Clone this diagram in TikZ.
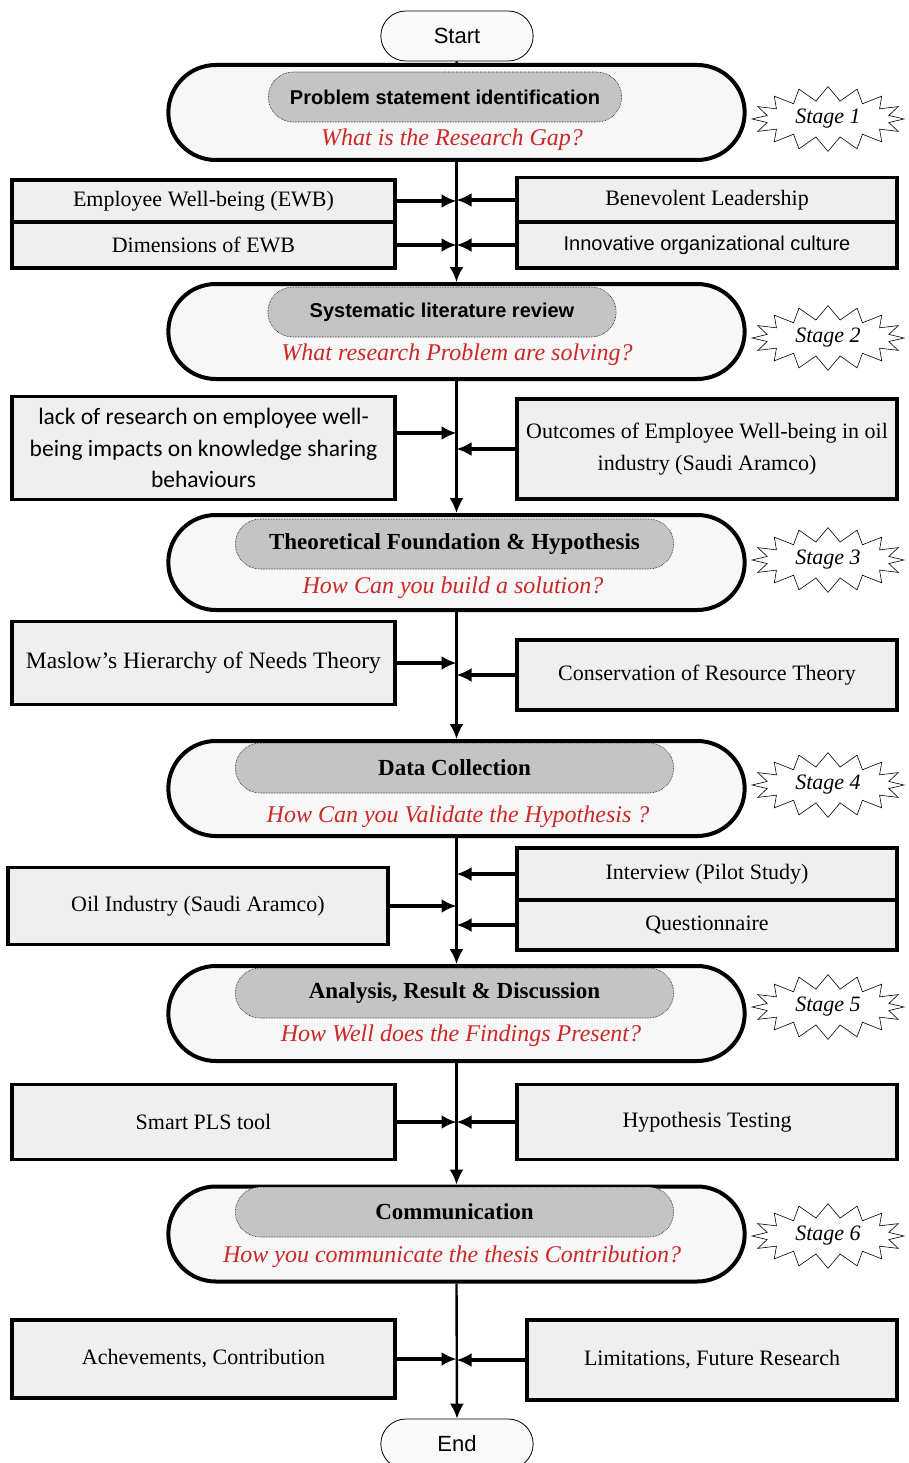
\documentclass[tikz,border=0pt]{standalone}
\usepackage{fontspec}
\setmainfont{Liberation Serif}
\setsansfont{Liberation Sans}
\newfontfamily\calfont{Carlito}
\usepackage{tikz}
\usetikzlibrary{arrows.meta, shapes.misc, shapes.symbols}
\tikzset{>={Latex[length=15pt,width=14pt]}}
\definecolor{qred}{RGB}{205,40,40}
\definecolor{boxgray}{RGB}{239,239,239}
\definecolor{titlegray}{RGB}{196,196,196}
\newcommand{\fs}[1]{\fontsize{#1}{#1}\selectfont}
\tikzset{
  terminal/.style = {rounded rectangle, draw, line width=0.8pt, fill=gray!5, minimum width=159pt, minimum height=50pt, font=\sffamily\fs{22}},
  stage/.style = {rounded rectangle, draw, line width=4pt, fill=gray!6, minimum width=583pt, minimum height=95pt},
  stagetitle/.style = {rounded rectangle, draw, densely dotted, line width=0.6pt, fill=titlegray, minimum height=50pt},
  question/.style = {text=qred, font=\itshape\fs{24}},
  stagetag/.style = {starburst, draw, line width=0.6pt, fill=white, starburst points=16, starburst point height=14pt, random starburst=0, minimum width=152pt, minimum height=62pt, font=\itshape\fs{22}},
  infobox/.style = {rectangle, draw, line width=3.5pt, fill=boxgray, minimum width=383pt, align=center, font=\fs{22}},
  feed/.style = {->, line width=4pt},
  flow/.style = {->, line width=2.4pt}
}

\begin{document}
\begin{tikzpicture}[x=1pt, y=-1pt]
	\useasboundingbox (0,0) rectangle (908,1463);
	
	% Start
	\node[terminal] (start) at (457,36) {Start};
	
	% Stage 1
	\node[stage] (s1) at (456.5,112.5) {};
	\node[stagetitle, minimum width=360pt, font=\sffamily\bfseries\fs{20}] (t1) at (445,97) {Problem statement identification};
	\node[question] (q1) at (452,140) {What is the Research Gap?};
	\node[stagetag] (g1) at (828,119) {Stage 1};
	%
	\node[infobox, minimum height=42pt] (ewb) at (203.5,201) {Employee Well-being (EWB)};
	\node[infobox, minimum height=46pt] (dim) at (203.5,245) {Dimensions of EWB};
	\node[infobox, minimum width=380pt, minimum height=45pt] (benev) at (707,200) {Benevolent Leadership};
	\node[infobox, minimum width=380pt, minimum height=46pt, font=\sffamily\fs{20}] (innov) at (707,245) {Innovative organizational culture};
	
	% Stage 2
	\node[stage] (s2) at (456.5,331.5) {};
	\node[stagetitle, minimum width=355pt, font=\sffamily\bfseries\fs{20}] (t2) at (442,312) {Systematic literature review};
	\node[question] (q2) at (457,355) {What research Problem are solving?};
	\node[stagetag] (g2) at (828,338) {Stage 2};
	%
	\node[infobox, minimum height=103pt, font=\calfont\fontsize{23.5}{31.5}\selectfont] (lack) at (203.5,448) {lack of research on employee well-\\being impacts on knowledge sharing\\behaviours};
	\node[infobox, minimum width=380pt, minimum height=100pt, font=\fontsize{22}{32}\selectfont] (outc) at (707,449) {Outcomes of Employee Well-being in oil\\industry (Saudi Aramco)};
	
	% Stage 3
	\node[stage] (s3) at (456.5,562.5) {};
	\node[stagetitle, minimum width=445pt, font=\bfseries\fs{23}] (t3) at (454.5,544) {Theoretical Foundation \& Hypothesis};
	\node[question] (q3) at (453,588) {How Can you build a solution?};
	\node[stagetag] (g3) at (828,560) {Stage 3};
	%
	\node[infobox, minimum height=83pt, font=\fs{23.5}] (maslow) at (203.5,663) {Maslow's Hierarchy of Needs Theory};
	\node[infobox, minimum width=380pt, minimum height=70pt] (cons) at (707,675) {Conservation of Resource Theory};
	
	% Stage 4
	\node[stage] (s4) at (456.5,788.5) {};
	\node[stagetitle, minimum width=445pt, font=\bfseries\fs{23}] (t4) at (454.5,768) {Data Collection};
	\node[question] (q4) at (458,817) {How Can you Validate the Hypothesis ?};
	\node[stagetag] (g4) at (828,785) {Stage 4};
	%
	\node[infobox, minimum width=380pt, minimum height=77pt] (oil) at (198,906) {Oil Industry (Saudi Aramco)};
	\node[infobox, minimum width=380pt, minimum height=52pt] (interv) at (707,874) {Interview (Pilot Study)};
	\node[infobox, minimum width=380pt, minimum height=50pt] (quest) at (707,925) {Questionnaire};
	
	% Stage 5
	\node[stage] (s5) at (456.5,1013.5) {};
	\node[stagetitle, minimum width=445pt, font=\bfseries\fs{23}] (t5) at (454.5,993) {Analysis, Result \& Discussion};
	\node[question] (q5) at (461,1036) {How Well does the Findings Present?};
	\node[stagetag] (g5) at (828,1007) {Stage 5};
	%
	\node[infobox, minimum height=75pt] (pls) at (203.5,1122) {Smart PLS tool};
	\node[infobox, minimum width=380pt, minimum height=75pt] (hyp) at (707,1122) {Hypothesis Testing};
	
	% Stage 6
	\node[stage] (s6) at (456.5,1234) {};
	\node[stagetitle, minimum width=445pt, font=\bfseries\fs{23}] (t6) at (454.5,1212) {Communication};
	\node[question] (q6) at (452,1257) {How you communicate the thesis Contribution?};
	\node[stagetag] (g6) at (828,1236) {Stage 6};
	%
	\node[infobox, minimum height=78pt] (ach) at (203.5,1359) {Achevements, Contribution};
	\node[infobox, minimum width=370pt, minimum height=80pt] (lim) at (712,1360) {Limitations, Future Research};
	
	% End
	\node[terminal] (end) at (457,1444) {End};
	
	% Main flow
	\draw[line width=2.4pt] (start.south) -- (s1.north);
	\draw[flow] (s1.south) -- (s2.north);
	\draw[flow] (s2.south) -- (s3.north);
	\draw[flow] (s3.south) -- (s4.north);
	\draw[flow] (s4.south) -- (s5.north);
	\draw[flow] (s5.south) -- (s6.north);
	\draw[flow] (s6.south) -- (end.north);
	
	% Feeds into the flow
	\foreach \b in {ewb, dim, maslow, oil, pls, ach}
		\draw[feed] (\b.east) -- (\b.east -| s1.south);
	\foreach \b in {benev, innov, cons, interv, quest, hyp, lim}
		\draw[feed] (\b.west) -- (\b.west -| s1.south);
	\draw[feed] ([yshift=15pt]lack.east) -- ([yshift=15pt]lack.east -| s1.south);
	\draw[feed] (outc.west) -- (outc.west -| s1.south);
\end{tikzpicture}
\end{document}
